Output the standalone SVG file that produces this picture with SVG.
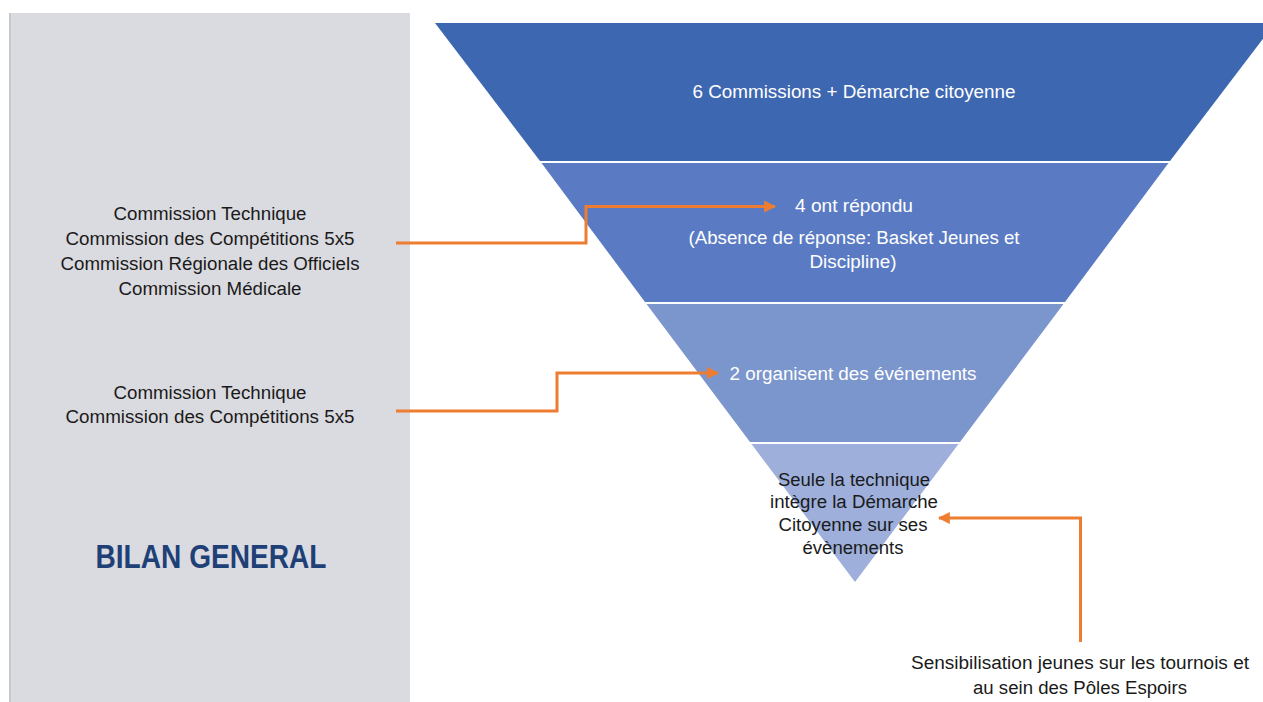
<svg xmlns="http://www.w3.org/2000/svg" width="1263" height="702" viewBox="0 0 1263 702">
<defs>
<style>
.t{font-family:"Liberation Sans","Noto Sans",Arial,sans-serif;font-size:18px;text-anchor:middle}
.w{fill:#ffffff}
.k{fill:#1a1a1a}
.c{fill:none;stroke:#ED7D31;stroke-width:3}
.title{font-family:"Liberation Sans","Noto Sans",Arial,sans-serif;font-weight:bold;font-size:34px;fill:#1F3F77;text-anchor:middle}
</style>
<marker id="ah" viewBox="0 0 10 10" refX="9" refY="5" markerWidth="4" markerHeight="4" markerUnits="strokeWidth" orient="auto">
<path d="M0,0 L10,5 L0,10 z" fill="#ED7D31"/>
</marker>
</defs>
<rect width="1263" height="702" fill="#ffffff"/>
<g id="panel">
<rect x="9" y="13" width="401" height="689" fill="#DADBE0"/>
<rect x="9" y="13" width="2" height="689" fill="#C7C8CD"/>
<text class="title" x="211" y="568" textLength="231" lengthAdjust="spacingAndGlyphs">BILAN GENERAL</text>
</g>
<g id="band1">
<polygon points="435,23 1275,23 1170,161 540,161" fill="#3E67B1"/>
<text class="t w" x="854" y="98" textLength="323" lengthAdjust="spacingAndGlyphs">6 Commissions + Démarche citoyenne</text>
</g>
<g id="band2">
<polygon points="541.5,163 1168.5,163 1065,302 645,302" fill="#5A7BC3"/>
<text class="t w" x="854" y="212" textLength="118" lengthAdjust="spacingAndGlyphs">4 ont répondu</text>
<text class="t w" x="854" y="244" textLength="331" lengthAdjust="spacingAndGlyphs">(Absence de réponse: Basket Jeunes et</text>
<text class="t w" x="853" y="268" textLength="87" lengthAdjust="spacingAndGlyphs">Discipline)</text>
</g>
<g id="band3">
<polygon points="646.5,304 1063.5,304 960,442 750,442" fill="#7B95CD"/>
<text class="t w" x="853" y="380" textLength="247" lengthAdjust="spacingAndGlyphs">2 organisent des événements</text>
</g>
<g id="band4">
<polygon points="751.5,444 958.5,444 855,582" fill="#9DAFDA"/>
<text class="t k" x="854" y="486" textLength="152" lengthAdjust="spacingAndGlyphs">Seule la technique</text>
<text class="t k" x="854" y="508" textLength="168" lengthAdjust="spacingAndGlyphs">intègre la Démarche</text>
<text class="t k" x="853" y="531" textLength="149" lengthAdjust="spacingAndGlyphs">Citoyenne sur ses</text>
<text class="t k" x="853" y="554" textLength="101" lengthAdjust="spacingAndGlyphs">évènements</text>
</g>
<g id="left1">
<text class="t k" x="210" y="220" textLength="193" lengthAdjust="spacingAndGlyphs">Commission Technique</text>
<text class="t k" x="210" y="245" textLength="289" lengthAdjust="spacingAndGlyphs">Commission des Compétitions 5x5</text>
<text class="t k" x="210" y="270" textLength="299" lengthAdjust="spacingAndGlyphs">Commission Régionale des Officiels</text>
<text class="t k" x="210" y="295" textLength="183" lengthAdjust="spacingAndGlyphs">Commission Médicale</text>
</g>
<g id="left2">
<text class="t k" x="210" y="399" textLength="193" lengthAdjust="spacingAndGlyphs">Commission Technique</text>
<text class="t k" x="210" y="423" textLength="289" lengthAdjust="spacingAndGlyphs">Commission des Compétitions 5x5</text>
</g>
<g id="bottom-note">
<text class="t k" x="1080" y="669" textLength="338" lengthAdjust="spacingAndGlyphs">Sensibilisation jeunes sur les tournois et</text>
<text class="t k" x="1080" y="694" textLength="214" lengthAdjust="spacingAndGlyphs">au sein des Pôles Espoirs</text>
</g>
<g id="connectors">
<polyline class="c" points="396,243 586,243 586,206.5 775,206.5" marker-end="url(#ah)"/>
<polyline class="c" points="396,411 557,411 557,373 718,373" marker-end="url(#ah)"/>
<polyline class="c" points="1080.5,642 1080.5,518 939,518" marker-end="url(#ah)"/>
</g>
</svg>
